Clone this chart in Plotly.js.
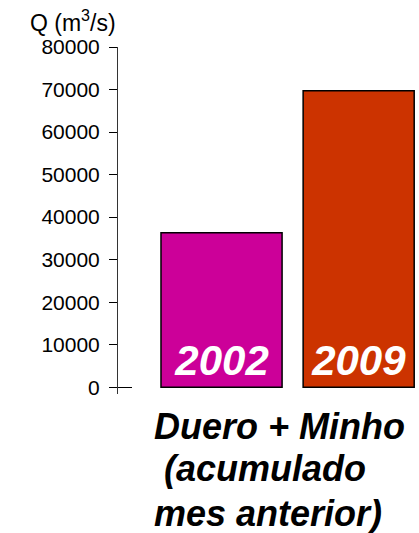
<!DOCTYPE html>
<html>
<head>
<meta charset="utf-8">
<script src="https://cdn.plot.ly/plotly-3.0.1.min.js"></script>
<style>html,body{margin:0;padding:0;background:#fff;}#chart{width:419px;height:533px;}</style>
</head>
<body>
<div id="chart"></div>
<script>
const years = ["2002", "2009"];
const flows = [36300, 69700];
const barColors = ["#CC0099", "#CC3300"];
const yTicks = [0, 10000, 20000, 30000, 40000, 50000, 60000, 70000, 80000];
const yTickLabels = ["0", "10000", "20000", "30000", "40000", "50000", "60000", "70000", "80000"];
const yTitle = "Q (m<sup>3</sup>/s)";
const titleLines = ["Duero + Minho", "(acumulado", "mes anterior)"];

const trace = {
  type: "bar",
  x: [0, 1],
  y: flows,
  width: [0.883, 0.81],
  marker: { color: barColors, line: { color: "#000", width: 1.5 } },
  text: years.map(t => "<b><i>" + t + "</i></b>"),
  textposition: "inside",
  insidetextanchor: "start",
  textangle: 0,
  textfont: { family: "Liberation Sans, Arial, sans-serif", size: 42, color: "#fff" },
  hoverinfo: "none",
  cliponaxis: false
};

const titleX = [0.535, 0.487, 0.497];
const titleY = [-0.093, -0.215, -0.343];

const annotations = [
  { xref: "paper", yref: "paper", x: -0.15, y: 1.075, xanchor: "center", yanchor: "middle",
    text: yTitle, showarrow: false, font: { size: 23, color: "#000" } }
];
titleLines.forEach((t, i) => {
  annotations.push({
    xref: "paper", yref: "paper", x: titleX[i], y: titleY[i], xanchor: "center", yanchor: "middle",
    text: "<b><i>" + t + "</i></b>", showarrow: false, font: { size: 36, color: "#000" }
  });
});

const layout = {
  width: 419, height: 533,
  margin: { l: 118, r: 0, t: 47, b: 139 },
  paper_bgcolor: "#fff", plot_bgcolor: "#fff",
  showlegend: false,
  font: { family: "Liberation Sans, Arial, sans-serif", color: "#000" },
  xaxis: { range: [-0.755, 1.44], visible: false, fixedrange: true },
  yaxis: {
    range: [-1600, 80000],
    tickvals: yTicks, ticktext: yTickLabels,
    ticks: "outside", ticklen: 8, tickcolor: "#000", tickwidth: 1,
    showline: true, linecolor: "#333", linewidth: 1,
    showgrid: false, zeroline: false,
    tickfont: { size: 21, color: "#000" },
    ticklabelstandoff: 5
  },
  yaxis2: {
    overlaying: "y", side: "left", range: [-1600, 80000],
    tickvals: [0], ticks: "inside", ticklen: 14, tickcolor: "#000",
    showticklabels: false, showline: false, showgrid: false, zeroline: false
  },
  annotations: annotations
};

const trace2 = { type: "scatter", x: [0], y: [0], yaxis: "y2", mode: "none", hoverinfo: "none" };

Plotly.newPlot("chart", [trace, trace2], layout, { displayModeBar: false, staticPlot: true });
</script>
</body>
</html>
